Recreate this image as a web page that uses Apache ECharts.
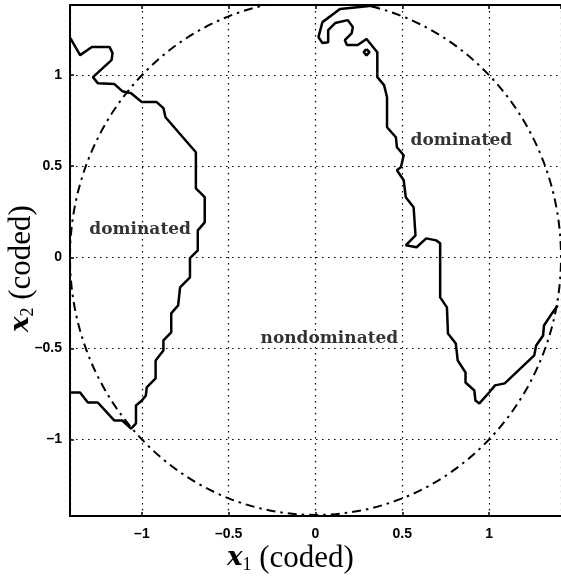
<!DOCTYPE html>
<html>
<head>
<meta charset="utf-8">
<script src="https://cdn.jsdelivr.net/npm/echarts@6/dist/echarts.min.js"></script>
<style>
  html, body { margin: 0; padding: 0; background: #fff; }
  #chart { width: 561px; height: 579px; }
</style>
</head>
<body>
<div id="chart"></div>
<script>
// axis extents (coded units)
const xRange = [-1.414, 1.414]
const yRange = [-1.42, 1.385]

// design region: circle of radius sqrt(2)
const circleCenter = [0, 0]
const circleRadius = 1.414

// left contour (dominated / nondominated boundary)
const leftBoundary = [
  [-1.412, 1.203], [-1.356, 1.110], [-1.288, 1.154], [-1.186, 1.154], [-1.169, 1.121],
  [-1.175, 1.082], [-1.282, 0.989], [-1.254, 0.956], [-1.158, 0.951], [-1.113, 0.912],
  [-1.062, 0.901], [-1.0, 0.852], [-0.915, 0.852], [-0.876, 0.819], [-0.864, 0.769],
  [-0.689, 0.577], [-0.689, 0.379], [-0.638, 0.330], [-0.638, 0.192], [-0.678, 0.148],
  [-0.678, 0.038], [-0.723, -0.005], [-0.723, -0.110], [-0.780, -0.165], [-0.791, -0.264],
  [-0.831, -0.308], [-0.831, -0.412], [-0.876, -0.456], [-0.876, -0.511], [-0.921, -0.566],
  [-0.921, -0.665], [-0.972, -0.714], [-0.977, -0.758], [-1.0, -0.786], [-1.034, -0.813],
  [-1.034, -0.912], [-1.062, -0.940], [-1.113, -0.896], [-1.158, -0.896], [-1.186, -0.868],
  [-1.254, -0.797], [-1.311, -0.797], [-1.356, -0.742], [-1.412, -0.742]
]

// right contour
const rightBoundary = [
  [0.367, 1.385], [0.141, 1.363], [0.040, 1.291], [0.017, 1.209], [0.040, 1.176],
  [0.073, 1.181], [0.073, 1.247], [0.113, 1.286], [0.186, 1.302], [0.215, 1.264],
  [0.209, 1.231], [0.169, 1.192], [0.181, 1.165], [0.243, 1.165], [0.294, 1.198],
  [0.356, 1.126], [0.356, 0.989], [0.395, 0.945], [0.412, 0.879], [0.412, 0.714],
  [0.463, 0.659], [0.469, 0.604], [0.508, 0.560], [0.492, 0.495], [0.469, 0.478],
  [0.508, 0.423], [0.520, 0.330], [0.565, 0.275], [0.576, 0.121], [0.520, 0.066],
  [0.582, 0.055], [0.638, 0.104], [0.695, 0.093], [0.718, 0.077], [0.718, -0.220],
  [0.757, -0.275], [0.763, -0.418], [0.808, -0.473], [0.819, -0.566], [0.864, -0.632],
  [0.864, -0.687], [0.915, -0.731], [0.921, -0.786], [0.944, -0.802], [1.0, -0.742],
  [1.034, -0.703], [1.090, -0.692], [1.260, -0.538], [1.271, -0.484], [1.311, -0.429],
  [1.316, -0.374], [1.362, -0.308], [1.395, -0.264]
]

// small closed contour near the top
const island = [
  [0.294, 1.143], [0.311, 1.126], [0.294, 1.109], [0.277, 1.126], [0.294, 1.143]
]

const regionNames = ['dominated', 'dominated', 'nondominated']
const regionSpots = [[-1.01, 0.15], [0.84, 0.64], [0.08, -0.445]]

const chart = echarts.init(document.getElementById('chart'))

const tickFmt = (v) => String(v).replace('-', '\u2013')
const tickFont = { color: '#000', fontFamily: 'Liberation Sans', fontWeight: 'bold', fontSize: 14 }
const dotted = { show: true, lineStyle: { color: '#000', width: 1.2, type: [1.5, 4.5] } }
const frame = { show: true, onZero: false, lineStyle: { color: '#000', width: 2 } }
const ticksIn = { show: true, inside: true, length: 4, lineStyle: { color: '#000', width: 1.5 } }

const nameRich = {
  m: { fontFamily: 'DejaVu Serif', fontStyle: 'italic', fontWeight: 'bold', fontSize: 26, color: '#000' },
  s: { fontFamily: 'Liberation Serif', fontSize: 18, color: '#000', padding: [13, 0, 0, 0] },
  n: { fontFamily: 'Liberation Serif', fontSize: 31, color: '#000' }
}

const option = {
  animation: false,
  backgroundColor: '#fff',
  grid: { left: 70, top: 5, right: -9, bottom: 63 },
  xAxis: [
    {
      type: 'value',
      min: xRange[0],
      max: xRange[1],
      axisLine: frame,
      axisTick: ticksIn,
      splitLine: dotted,
      axisLabel: { ...tickFont, margin: 11, formatter: tickFmt, showMinLabel: false, showMaxLabel: false }
    },
    {
      type: 'value',
      position: 'top',
      min: xRange[0],
      max: xRange[1],
      axisLine: frame,
      axisTick: ticksIn,
      splitLine: { show: false },
      axisLabel: { show: false }
    }
  ],
  yAxis: {
    type: 'value',
    position: 'left',
    min: yRange[0],
    max: yRange[1],
    axisLine: frame,
    axisTick: ticksIn,
    splitLine: dotted,
    axisLabel: { ...tickFont, margin: 8, formatter: tickFmt, showMinLabel: false, showMaxLabel: false }
  },
  graphic: [
    {
      type: 'text',
      left: 227,
      top: 543,
      style: { text: '{m|x}{s|1}{n| (coded)}', rich: nameRich }
    },
    {
      type: 'text',
      x: 6,
      y: 332,
      rotation: Math.PI / 2,
      style: { text: '{m|x}{s|2}{n| (coded)}', rich: nameRich }
    }
  ],
  series: [
    {
      type: 'custom',
      z: 2,
      data: [circleCenter],
      renderItem: (params, api) => {
        const c = api.coord(circleCenter)
        const s = api.size([circleRadius, circleRadius])
        const cs = params.coordSys
        return {
          type: 'ellipse',
          shape: { cx: c[0], cy: c[1], rx: s[0], ry: s[1] },
          style: { fill: null, stroke: '#000', lineWidth: 2, lineDash: [9, 5, 2.5, 5] },
          clipPath: { type: 'rect', shape: { x: cs.x, y: cs.y, width: cs.width, height: cs.height } }
        }
      }
    },
    {
      type: 'line',
      data: leftBoundary,
      showSymbol: false,
      z: 3,
      lineStyle: { color: '#000', width: 2.5 }
    },
    {
      type: 'line',
      data: rightBoundary,
      showSymbol: false,
      z: 3,
      lineStyle: { color: '#000', width: 2.5 }
    },
    {
      type: 'line',
      data: island,
      showSymbol: false,
      z: 3,
      lineStyle: { color: '#000', width: 2.5 }
    },
    {
      type: 'scatter',
      symbolSize: 0,
      z: 4,
      data: regionNames.map((n, i) => ({ name: n, value: regionSpots[i] })),
      label: {
        show: true,
        position: 'inside',
        formatter: '{b}',
        color: '#000',
        textBorderWidth: 0,
        fontFamily: 'DejaVu Serif',
        fontWeight: 'bold',
        fontSize: 17
      }
    }
  ]
}

option && chart.setOption(option)
</script>
</body>
</html>
